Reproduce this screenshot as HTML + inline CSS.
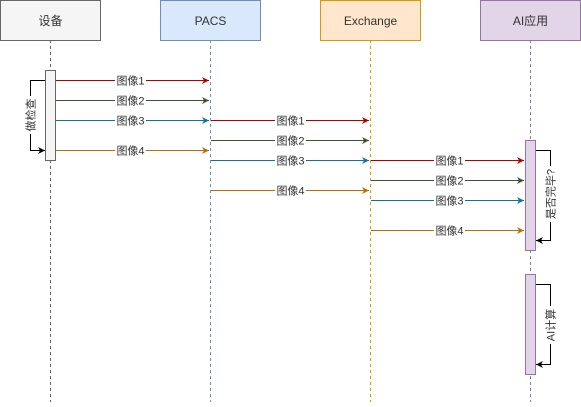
<!DOCTYPE html>
<html><head><meta charset="utf-8"><style>
html,body{margin:0;padding:0;background:#fff;}
svg text{font-family:"Liberation Sans","Noto Sans CJK SC",sans-serif;}
</style></head><body>
<svg width="581" height="402" viewBox="0 0 581 402" xmlns="http://www.w3.org/2000/svg">
<defs>
<marker id="mr" markerWidth="8" markerHeight="8" refX="7" refY="4" orient="auto" markerUnits="userSpaceOnUse"><path d="M0,0.5 L7,4 L0,7.5 L2,4 Z" fill="#B20000"/></marker>
<marker id="mg" markerWidth="8" markerHeight="8" refX="7" refY="4" orient="auto" markerUnits="userSpaceOnUse"><path d="M0,0.5 L7,4 L0,7.5 L2,4 Z" fill="#3A5431"/></marker>
<marker id="mb" markerWidth="8" markerHeight="8" refX="7" refY="4" orient="auto" markerUnits="userSpaceOnUse"><path d="M0,0.5 L7,4 L0,7.5 L2,4 Z" fill="#10739E"/></marker>
<marker id="mo" markerWidth="8" markerHeight="8" refX="7" refY="4" orient="auto" markerUnits="userSpaceOnUse"><path d="M0,0.5 L7,4 L0,7.5 L2,4 Z" fill="#BD7000"/></marker>
<marker id="mk" markerWidth="8" markerHeight="8" refX="7" refY="4" orient="auto" markerUnits="userSpaceOnUse"><path d="M0,0.5 L7,4 L0,7.5 L2,4 Z" fill="#000"/></marker>
</defs>
<!-- lifelines -->
<line x1="50.5" y1="40" x2="50.5" y2="402" stroke="#666" stroke-dasharray="3,3"/>
<line x1="210.5" y1="40" x2="210.5" y2="402" stroke="#6c8ebf" stroke-dasharray="3,3"/>
<line x1="370.5" y1="40" x2="370.5" y2="402" stroke="#d79b00" stroke-dasharray="3,3"/>
<line x1="530.5" y1="40" x2="530.5" y2="402" stroke="#9673a6" stroke-dasharray="3,3"/>
<!-- headers -->
<rect x="0.5" y="0.5" width="100" height="40" fill="#f5f5f5" stroke="#666"/>
<text x="50.5" y="25" text-anchor="middle" font-size="12" fill="#333">设备</text>
<rect x="160.5" y="0.5" width="100" height="40" fill="#dae8fc" stroke="#6c8ebf"/>
<text x="210.5" y="25" text-anchor="middle" font-size="12" fill="#333">PACS</text>
<rect x="320.5" y="0.5" width="100" height="40" fill="#ffe6cc" stroke="#d79b00"/>
<text x="370.5" y="25" text-anchor="middle" font-size="12" fill="#333">Exchange</text>
<rect x="480.5" y="0.5" width="100" height="40" fill="#e1d5e7" stroke="#9673a6"/>
<text x="530.5" y="25" text-anchor="middle" font-size="12" fill="#333">AI应用</text>
<!-- activations -->
<rect x="45.5" y="70.5" width="10" height="90" fill="#f5f5f5" stroke="#666"/>
<rect x="525.5" y="140.5" width="10" height="110" fill="#e1d5e7" stroke="#9673a6"/>
<rect x="525.5" y="274.5" width="10" height="100" fill="#e1d5e7" stroke="#9673a6"/>
<!-- self loops -->
<path d="M45,80.5 H30.5 V150.5 H45" fill="none" stroke="#000" marker-end="url(#mk)"/>
<rect x="24" y="96" width="13" height="38" fill="#fff"/>
<text transform="translate(34.5,115) rotate(-90)" text-anchor="middle" font-size="11" fill="#333">做检查</text>
<path d="M536,150.5 H550.5 V240.5 H536" fill="none" stroke="#000" marker-end="url(#mk)"/>
<rect x="544" y="166" width="13" height="56" fill="#fff"/>
<text transform="translate(554.5,194) rotate(-90)" text-anchor="middle" font-size="11" fill="#333">是否完毕?</text>
<path d="M536,284.5 H550.5 V364.5 H536" fill="none" stroke="#000" marker-end="url(#mk)"/>
<rect x="544" y="306" width="13" height="38" fill="#fff"/>
<text transform="translate(554.5,325) rotate(-90)" text-anchor="middle" font-size="11" fill="#333">AI计算</text>
<!-- messages -->
<g font-size="11" fill="#333" text-anchor="middle">
<line x1="56" y1="80.5" x2="209" y2="80.5" stroke="#B20000" marker-end="url(#mr)"/>
<rect x="115" y="74" width="31" height="13" fill="#fff"/><text x="130.5" y="84.5">图像1</text>
<line x1="56" y1="100.5" x2="209" y2="100.5" stroke="#3A5431" marker-end="url(#mg)"/>
<rect x="115" y="94" width="31" height="13" fill="#fff"/><text x="130.5" y="104.5">图像2</text>
<line x1="56" y1="120.5" x2="209" y2="120.5" stroke="#10739E" marker-end="url(#mb)"/>
<rect x="115" y="114" width="31" height="13" fill="#fff"/><text x="130.5" y="124.5">图像3</text>
<line x1="56" y1="150.5" x2="209" y2="150.5" stroke="#BD7000" marker-end="url(#mo)"/>
<rect x="115" y="144" width="31" height="13" fill="#fff"/><text x="130.5" y="154.5">图像4</text>

<line x1="211" y1="120.5" x2="369" y2="120.5" stroke="#B20000" marker-end="url(#mr)"/>
<rect x="275" y="114" width="31" height="13" fill="#fff"/><text x="290.5" y="124.5">图像1</text>
<line x1="211" y1="140.5" x2="369" y2="140.5" stroke="#3A5431" marker-end="url(#mg)"/>
<rect x="275" y="134" width="31" height="13" fill="#fff"/><text x="290.5" y="144.5">图像2</text>
<line x1="211" y1="160.5" x2="369" y2="160.5" stroke="#10739E" marker-end="url(#mb)"/>
<rect x="275" y="154" width="31" height="13" fill="#fff"/><text x="290.5" y="164.5">图像3</text>
<line x1="211" y1="190.5" x2="369" y2="190.5" stroke="#BD7000" marker-end="url(#mo)"/>
<rect x="275" y="184" width="31" height="13" fill="#fff"/><text x="290.5" y="194.5">图像4</text>

<line x1="371" y1="160.5" x2="524" y2="160.5" stroke="#B20000" marker-end="url(#mr)"/>
<rect x="434" y="154" width="31" height="13" fill="#fff"/><text x="449.5" y="164.5">图像1</text>
<line x1="371" y1="180.5" x2="524" y2="180.5" stroke="#3A5431" marker-end="url(#mg)"/>
<rect x="434" y="174" width="31" height="13" fill="#fff"/><text x="449.5" y="184.5">图像2</text>
<line x1="371" y1="200.5" x2="524" y2="200.5" stroke="#10739E" marker-end="url(#mb)"/>
<rect x="434" y="194" width="31" height="13" fill="#fff"/><text x="449.5" y="204.5">图像3</text>
<line x1="371" y1="230.5" x2="524" y2="230.5" stroke="#BD7000" marker-end="url(#mo)"/>
<rect x="434" y="224" width="31" height="13" fill="#fff"/><text x="449.5" y="234.5">图像4</text>
</g>
</svg>
</body></html>
